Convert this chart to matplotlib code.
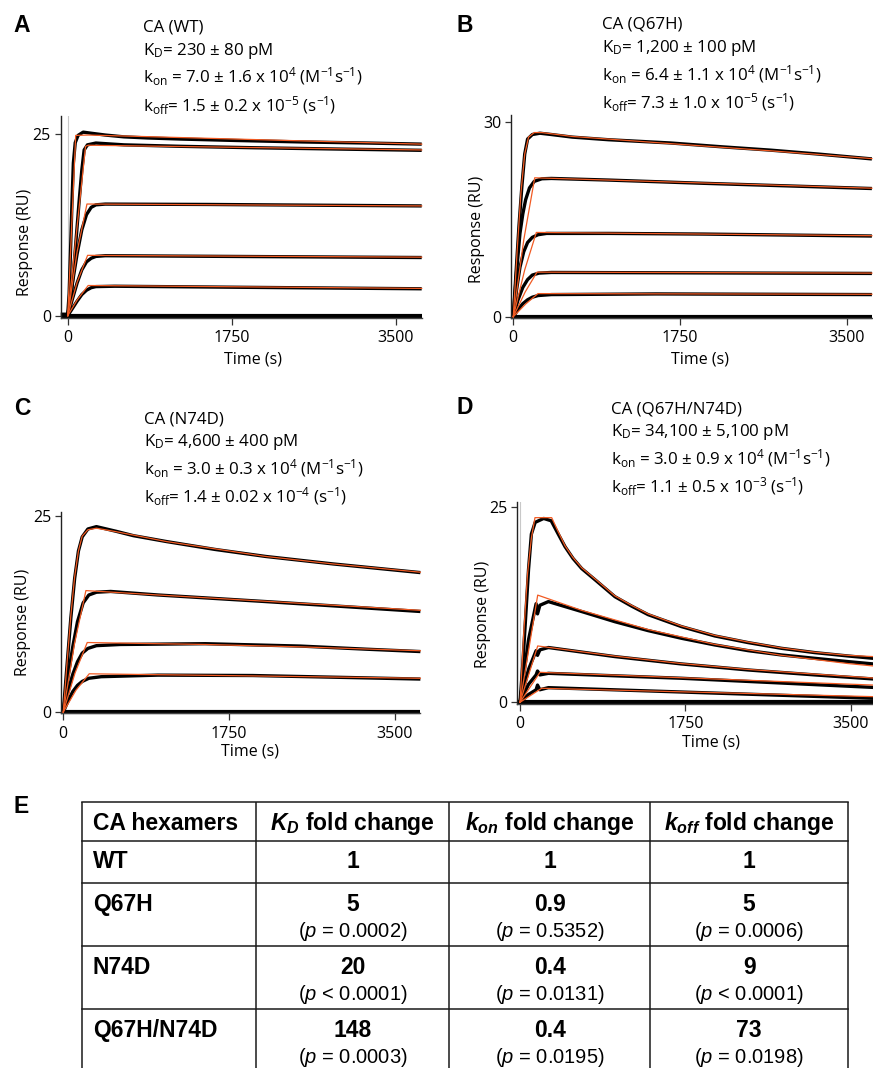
import matplotlib
matplotlib.use("Agg")
import matplotlib.pyplot as plt

plt.rcParams['font.family'] = ['Open Sans', 'DejaVu Sans']
plt.rcParams['mathtext.fontset'] = 'custom'
plt.rcParams['mathtext.rm'] = 'Open Sans'
plt.rcParams['mathtext.it'] = 'Liberation Sans:italic'
plt.rcParams['mathtext.sf'] = 'Liberation Sans:italic:bold'
plt.rcParams['mathtext.bf'] = 'Liberation Sans:bold'

# ---------------- data ----------------
# Panel A : CA (WT)
A_raw_t = [[-75, 0, 15, 30, 45, 60, 80, 110, 165, 250, 400, 600, 850, 1200, 1800, 2500, 3200, 3775],
           [0, 40, 80, 120, 150, 175, 210, 300, 600, 1200, 2000, 3000, 3775],
           [0, 50, 100, 150, 200, 250, 300, 400, 1500, 3775],
           [0, 50, 100, 150, 200, 250, 300, 400, 3775],
           [0, 50, 100, 150, 200, 250, 300, 500, 3775],
           [-75, 3775]]
A_raw_y = [[0.2, 0.2, 3, 9, 15.5, 21, 23.8, 24.8, 25.25, 25.1, 24.85, 24.6, 24.45, 24.3, 24.1, 23.9, 23.75, 23.6],
           [0, 3, 9, 15.5, 20, 22.8, 23.5, 23.75, 23.5, 23.3, 23.1, 22.9, 22.75],
           [0, 4.5, 8.5, 11.8, 13.9, 14.9, 15.25, 15.35, 15.3, 15.1],
           [0, 2.3, 4.5, 6.3, 7.4, 7.9, 8.15, 8.25, 8.0],
           [0, 1.0, 2.0, 2.9, 3.5, 3.85, 4.0, 4.05, 3.7],
           [0, 0]]
A_fit_t = [[0, 85, 220, 3775], [0, 190, 220, 3775], [0, 100, 205, 3775],
           [0, 100, 212, 3775], [0, 100, 218, 3775]]
A_fit_y = [[0, 24.8, 24.85, 23.6], [0, 23.3, 23.45, 22.8], [0, 8.8, 15.36, 15.1],
           [0, 4.6, 8.3, 8.05], [0, 2.15, 4.15, 3.75]]

# Panel B : CA (Q67H)
B_raw_t = [[0, 30, 60, 90, 120, 150, 200, 280, 400, 620, 1000, 1650, 2200, 2700, 3200, 3765],
           [0, 35, 70, 100, 130, 170, 220, 300, 400, 1000, 2000, 3000, 3765],
           [0, 35, 70, 110, 150, 200, 260, 350, 1000, 2000, 3765],
           [0, 50, 100, 150, 200, 270, 400, 3765],
           [0, 50, 100, 150, 200, 260, 400, 1500, 3765],
           [-24, 3765]]
B_raw_y = [[0, 7, 14, 20, 25, 27.3, 28.0, 28.2, 28.0, 27.6, 27.2, 26.7, 26.1, 25.6, 25.0, 24.25],
           [0, 7, 12.8, 15.8, 18, 19.8, 20.8, 21.2, 21.25, 21.0, 20.5, 20.05, 19.7],
           [0, 4.2, 7.6, 10.0, 11.4, 12.2, 12.6, 12.8, 12.8, 12.7, 12.4],
           [0, 2.6, 4.5, 5.7, 6.4, 6.7, 6.8, 6.65],
           [0, 1.1, 2.0, 2.6, 3.0, 3.25, 3.4, 3.5, 3.4],
           [0, 0]]
B_fit_t = [[0, 40, 80, 120, 160, 220, 300, 620, 1650, 2700, 3765],
           [0, 110, 225, 3765], [0, 120, 242, 3765], [0, 125, 249, 3765], [0, 130, 259, 3765]]
B_fit_y = [[0, 10, 19, 25, 27.6, 28.3, 28.3, 27.7, 26.6, 25.5, 24.3],
           [0, 11.8, 21.35, 19.75], [0, 7.2, 12.95, 12.45], [0, 3.8, 6.85, 6.7], [0, 1.95, 3.55, 3.45]]

# Panel C : CA (N74D)
C_raw_t = [[0, 40, 80, 120, 160, 200, 260, 350, 560, 740, 1090, 1600, 2140, 2850, 3770],
           [0, 50, 100, 150, 210, 270, 350, 500, 1000, 2140, 3000, 3770],
           [0, 50, 100, 150, 200, 260, 350, 600, 1500, 2500, 3200, 3770],
           [0, 50, 100, 150, 200, 270, 400, 1000, 2000, 3000, 3770],
           [-24, 3770]]
C_raw_y = [[0, 6, 12, 17, 20.5, 22.3, 23.3, 23.6, 23.0, 22.45, 21.7, 20.7, 19.8, 18.85, 17.75],
           [0, 4.5, 8.3, 11.5, 13.9, 14.9, 15.25, 15.35, 14.9, 14.06, 13.4, 12.8],
           [0, 2.6, 4.8, 6.4, 7.5, 8.1, 8.45, 8.6, 8.7, 8.4, 8.0, 7.7],
           [0, 1.4, 2.6, 3.4, 3.9, 4.3, 4.5, 4.7, 4.65, 4.4, 4.2],
           [0, 0]]
C_fit_t = [[0, 40, 80, 120, 160, 200, 260, 350, 560, 1090, 2140, 2850, 3770],
           [0, 120, 239, 1000, 2140, 3770], [0, 125, 253, 1500, 2500, 3770], [0, 135, 274, 2000, 3770]]
C_fit_y = [[0, 6.3, 12.3, 17.2, 20.5, 22.4, 23.2, 23.4, 22.95, 21.7, 19.8, 18.85, 17.8],
           [0, 8.8, 15.46, 14.9, 14.1, 12.95], [0, 5.0, 8.85, 8.6, 8.3, 7.8], [0, 2.8, 4.87, 4.6, 4.3]]

# Panel D : CA (Q67H/N74D)
D_raw_t = [[0, 30, 60, 90, 120, 160, 250, 330, 400, 476, 560, 652, 800, 1004, 1180, 1356, 1709, 2061, 2414, 2766, 3119, 3471, 3740],
           [0, 90, 170, 185, 210, 300, 652, 1004, 1356, 1709, 2061, 2414, 2766, 3119, 3471, 3740],
           [0, 90, 170, 185, 210, 300, 1004, 1709, 2414, 3119, 3740],
           [0, 90, 170, 185, 210, 300, 1709, 3740],
           [0, 90, 170, 185, 210, 300, 3740],
           [-29, 3740]]
D_raw_y = [[0, 5, 11, 17, 21.5, 23.0, 23.5, 23.2, 21.6, 19.9, 18.4, 17.1, 15.6, 13.5, 12.3, 11.2, 9.67, 8.48, 7.63, 6.9, 6.35, 5.92, 5.62],
           [0, 8, 12.6, 11.3, 12.4, 12.87, 11.6, 10.3, 9.16, 8.18, 7.33, 6.6, 6.05, 5.62, 5.2, 4.9],
           [0, 4.2, 6.6, 6.0, 6.7, 7.0, 5.84, 4.9, 4.13, 3.5, 2.98],
           [0, 2.3, 3.5, 4.0, 3.5, 3.7, 3.07, 1.9],
           [0, 1.0, 1.6, 2.2, 1.6, 1.87, 0.51],
           [0, 0]]
D_fit_t = [[0, 40, 80, 120, 158, 335, 400, 476, 560, 652, 800, 1004, 1180, 1356, 1709, 2061, 2414, 2766, 3119, 3471, 3740],
           [0, 187, 652, 1356, 2061, 2766, 3471, 3740],
           [0, 187, 1004, 1709, 2414, 3119, 3740],
           [0, 211, 3740], [0, 229, 3740]]
D_fit_y = [[0, 9, 16.5, 21, 23.6, 23.6, 21.9, 20.0, 18.5, 17.2, 15.7, 13.6, 12.4, 11.3, 9.75, 8.55, 7.7, 6.95, 6.4, 6.0, 5.84],
           [0, 13.7, 11.75, 9.3, 7.4, 6.0, 4.95, 4.64],
           [0, 7.2, 5.9, 4.95, 4.2, 3.6, 3.1],
           [0, 3.83, 2.2], [0, 1.79, 0.72]]

x_ticks = [0, 1750, 3500]
titles = ["CA (WT)", "CA (Q67H)", "CA (N74D)", "CA (Q67H/N74D)"]
kd_text = ["230 ± 80 pM", "1,200 ± 100 pM", "4,600 ± 400 pM", "34,100 ± 5,100 pM"]
kon_text = ["7.0 ± 1.6", "6.4 ± 1.1", "3.0 ± 0.3", "3.0 ± 0.9"]
koff_text = ["1.5 ± 0.2", "7.3 ± 1.0", "1.4 ± 0.02", "1.1 ± 0.5"]
koff_exp = ["-5", "-5", "-4", "-3"]

tbl_header = ["CA hexamers", r"$\mathsf{K_D}$ fold change", r"$\mathsf{k_{on}}$ fold change",
              r"$\mathsf{k_{off}}$ fold change"]
tbl_rows = ["WT", "Q67H", "N74D", "Q67H/N74D"]
tbl_kd = ["1", "5", "20", "148"]
tbl_kon = ["1", "0.9", "0.4", "0.4"]
tbl_koff = ["1", "5", "9", "73"]
tbl_p_kd = [None, "= 0.0002", "< 0.0001", "= 0.0003"]
tbl_p_kon = [None, "= 0.5352", "= 0.0131", "= 0.0195"]
tbl_p_koff = [None, "= 0.0006", "< 0.0001", "= 0.0198"]

# ---------------- layout ----------------
W, H = 873, 1068
ORANGE = '#f15a22'
fig = plt.figure(figsize=(W / 100, H / 100), dpi=100)


def add_ax(l, t, r, b):
    return fig.add_axes([l / W, 1 - b / H, (r - l) / W, (b - t) / H])


panels = [
    dict(box=(60.7, 116, 421.7, 318), xlim=(-75, 3775), ylim=(-0.32, 27.47), ytop=25,
         raw=(A_raw_t, A_raw_y), fit=(A_fit_t, A_fit_y), zero_line=True),
    dict(box=(511, 115, 871.7, 318), xlim=(-24, 3763), ylim=(-0.2, 31.0), ytop=30,
         raw=(B_raw_t, B_raw_y), fit=(B_fit_t, B_fit_y), zero_line=False),
    dict(box=(61, 511.7, 420, 713), xlim=(-24, 3766), ylim=(-0.12, 25.5), ytop=25,
         raw=(C_raw_t, C_raw_y), fit=(C_fit_t, C_fit_y), zero_line=False),
    dict(box=(517.3, 501.7, 873, 704), xlim=(-29, 3736), ylim=(-0.22, 25.64), ytop=25,
         raw=(D_raw_t, D_raw_y), fit=(D_fit_t, D_fit_y), zero_line=True),
]

for p in panels:
    ax = add_ax(*p['box'])
    ax.set_xlim(*p['xlim'])
    ax.set_ylim(*p['ylim'])
    if p['zero_line']:
        ax.axvline(0, color='#c8c8c8', lw=0.8, zorder=1)
    for t, y in zip(*p['raw']):
        lw = 3.0 if len(t) == 2 else 2.4
        ax.plot(t, y, color='black', lw=lw, zorder=2, solid_capstyle='butt',
                solid_joinstyle='round', clip_on=False)
    for t, y in zip(*p['fit']):
        ax.plot(t, y, color=ORANGE, lw=0.9, zorder=3, clip_on=False)
    ax.set_xticks(x_ticks)
    ax.set_yticks([0, p['ytop']])
    for s in ['top', 'right']:
        ax.spines[s].set_visible(False)
    ax.spines['left'].set_linewidth(1.0)
    ax.spines['bottom'].set_linewidth(1.0)
    ax.spines['left'].set_color('#222222')
    ax.spines['bottom'].set_color('#444444')
    ax.tick_params(axis='x', direction='out', length=5, width=0.9, pad=4, labelsize=11.5,
                   color='#333333')
    ax.tick_params(axis='y', direction='out', length=4, width=0.9, pad=3, labelsize=11.5,
                   color='#333333')
    ax.patch.set_alpha(0)

ov = fig.add_axes([0, 0, 1, 1])
ov.set_xlim(0, W)
ov.set_ylim(H, 0)
ov.axis('off')
ov.patch.set_alpha(0)

# panel letters
for letter, (x, y) in zip("ABCDE", [(22, 25), (464.5, 25), (22, 408.3), (464.7, 407.7), (21, 806.7)]):
    ov.text(x, y, letter, family='Liberation Sans', weight='bold', fontsize=16.5,
            ha='center', va='center')

# annotations
ann_x = [142.7, 601.7, 144.3, 610.7]
ann_base = [[31.5, 55, 83, 111.5], [28.3, 52.3, 81, 109], [424, 445.7, 474.3, 502.7],
            [414, 436, 464.3, 492.7]]
for i in range(4):
    x = ann_x[i]
    b = ann_base[i]
    lines = [titles[i],
             r"K$_\mathregular{D}$= " + kd_text[i],
             r"k$_\mathregular{on}$ = " + kon_text[i] + r" x 10$^\mathregular{4}$ (M$^\mathregular{-1}$s$^\mathregular{-1}$)",
             r"k$_\mathregular{off}$= " + koff_text[i] + r" x 10$^\mathregular{" + koff_exp[i] + r"}$ (s$^\mathregular{-1}$)"]
    for s, yb in zip(lines, b):
        ov.text(x, yb, s, fontsize=12.2, ha='left', va='baseline')

# axis labels
ylab_pos = [(25, 242), (476.7, 229), (22.7, 622), (483, 614)]
for x, y in ylab_pos:
    ov.text(x, y, "Response (RU)", fontsize=11.5, rotation=90, ha='center', va='center')
xlab_pos = [(252.5, 360), (700, 360), (250, 751.7), (711, 742.7)]
for x, y in xlab_pos:
    ov.text(x, y, "Time (s)", fontsize=11.5, ha='center', va='center')

# ---------------- table E ----------------
col_x = [81.7, 255.7, 449.3, 650, 848.3]
row_y = [802.3, 840.7, 882.7, 945.7, 1009.3]
LC = '#1a1a1a'
for x in col_x:
    ov.plot([x, x], [row_y[0], H + 5], color=LC, lw=1.1, clip_on=False, solid_capstyle='butt')
for y in row_y:
    ov.plot([col_x[0], col_x[-1]], [y, y], color=LC, lw=1.1, clip_on=False,
            solid_capstyle='projecting')

centers = [(col_x[i] + col_x[i + 1]) / 2 for i in range(1, 4)]
ov.text(92.7, 830, tbl_header[0], family='Liberation Sans', weight='bold', fontsize=16.5,
        ha='left', va='baseline')
for cx, h in zip(centers, tbl_header[1:]):
    ov.text(cx, 830, h, family='Liberation Sans', weight='bold', fontsize=16.5,
            ha='center', va='baseline')

val_base = [868.3, 911, 974.3, 1036.7]
p_base = [None, 937.3, 1000, 1063.3]
for r in range(4):
    ov.text(92.7, val_base[r], tbl_rows[r], family='Liberation Sans', weight='bold',
            fontsize=16.5, ha='left', va='baseline')
    for cx, v, pv in zip(centers, [tbl_kd[r], tbl_kon[r], tbl_koff[r]],
                         [tbl_p_kd[r], tbl_p_kon[r], tbl_p_koff[r]]):
        ov.text(cx, val_base[r], v, family='Liberation Sans', weight='bold', fontsize=16.5,
                ha='center', va='baseline')
        if pv is not None:
            ov.text(cx, p_base[r], r"($\mathit{p}$ " + pv + ")", family='Liberation Sans',
                    fontsize=14.5, ha='center', va='baseline')

fig.savefig("out.png", dpi=100)
